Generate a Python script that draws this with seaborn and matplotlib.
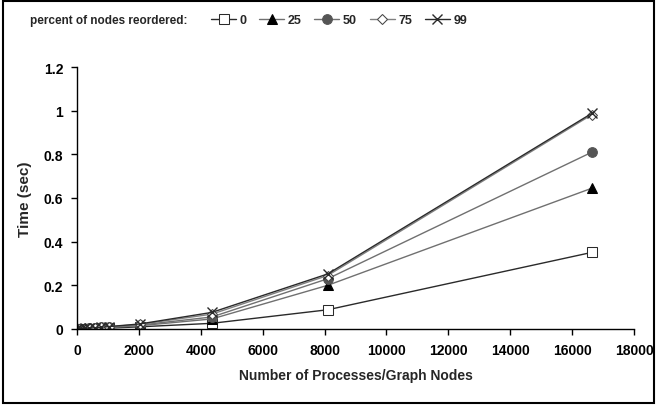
import numpy as np
import pandas as pd
import matplotlib
matplotlib.use("Agg")
import matplotlib.pyplot as plt
import seaborn as sns
from matplotlib.patches import Rectangle

# graph sizes (number of processes / nodes)
nodes = [4, 16, 64, 144, 256, 400, 576, 784, 1024, 2025, 4356, 8100, 16641]

# time in seconds, one list per percent of nodes reordered
t_0 = [0.0, 0.0, 0.0, 0.001, 0.001, 0.001, 0.002, 0.003, 0.004, 0.010, 0.026, 0.088, 0.351]
t_25 = [0.0, 0.0, 0.001, 0.001, 0.002, 0.003, 0.004, 0.006, 0.007, 0.015, 0.046, 0.200, 0.645]
t_50 = [0.0, 0.0, 0.001, 0.001, 0.002, 0.003, 0.005, 0.007, 0.008, 0.018, 0.055, 0.230, 0.810]
t_75 = [0.0, 0.0, 0.001, 0.002, 0.003, 0.004, 0.006, 0.008, 0.010, 0.021, 0.068, 0.245, 0.982]
t_99 = [0.0, 0.0, 0.001, 0.002, 0.003, 0.004, 0.006, 0.008, 0.011, 0.023, 0.076, 0.252, 0.988]

labels = ["0", "25", "50", "75", "99"]
series = [t_0, t_25, t_50, t_75, t_99]
yticklabels = ["0", "0.2", "0.4", "0.6", "0.8", "1", "1.2"]

rows = []
for lab, vals in zip(labels, series):
    for n, v in zip(nodes, vals):
        rows.append({"pct": lab, "nodes": n, "time": v})
df = pd.DataFrame(rows)

sns.set_style("white")
plt.rcParams["font.family"] = ["Liberation Sans", "DejaVu Sans"]
plt.rcParams["font.weight"] = "bold"

styles = {
    "0": dict(marker="s", color="#2a2a2a", mfc="white", mec="#2a2a2a", ms=6.5),
    "25": dict(marker="^", color="#707070", mfc="black", mec="black", ms=7),
    "50": dict(marker="o", color="#707070", mfc="#555555", mec="#555555", ms=7),
    "75": dict(marker="D", color="#808080", mfc="white", mec="#444444", ms=5),
    "99": dict(marker="x", color="#2a2a2a", mfc="none", mec="#2a2a2a", ms=7, mew=1.0),
}

fig = plt.figure(figsize=(6.57, 4.06), dpi=100)
ax = fig.add_axes([77 / 657, 76 / 406, (634 - 77) / 657, (330 - 68) / 406])

for lab in labels:
    sub = df[df["pct"] == lab]
    sns.lineplot(data=sub, x="nodes", y="time", ax=ax, lw=1.0, label=lab,
                 **styles[lab])

ax.set_xlim(0, 18000)
ax.set_ylim(0, 1.2)
ax.set_xticks(np.arange(0, 18001, 2000))
ax.set_xticklabels([str(v) for v in range(0, 18001, 2000)], fontweight="bold", fontsize=10)
ax.set_yticks(np.arange(0, 1.21, 0.2))
ax.set_yticklabels(yticklabels, fontweight="bold", fontsize=10)
ax.tick_params(axis="both", direction="out", length=4, width=1, colors="black",
               bottom=True, left=True, pad=6)
for s in ["top", "right"]:
    ax.spines[s].set_visible(False)
for s in ["left", "bottom"]:
    ax.spines[s].set_color("black")
    ax.spines[s].set_linewidth(1.0)

ax.set_xlabel("Number of Processes/Graph Nodes", fontsize=10, fontweight="bold", labelpad=8)
ax.set_ylabel("Time (sec)", fontsize=11, fontweight="bold", labelpad=8)

fig.text(30 / 657, 1 - 21 / 406, "percent of nodes reordered:", fontsize=8.5,
         fontweight="bold", va="center", ha="left")
ax.legend(ncol=5, loc="center left", bbox_to_anchor=(211 / 657, 1 - 21 / 406),
          bbox_transform=fig.transFigure, frameon=False,
          prop={"weight": "bold", "size": 9},
          handlelength=2.0, handletextpad=0.3, columnspacing=1.0,
          borderpad=0, borderaxespad=0)

fig.patches.append(Rectangle((0.004, 0.006), 0.991, 0.988, transform=fig.transFigure,
                             fill=False, edgecolor="black", linewidth=1.5))

fig.savefig("out.png", dpi=100)
